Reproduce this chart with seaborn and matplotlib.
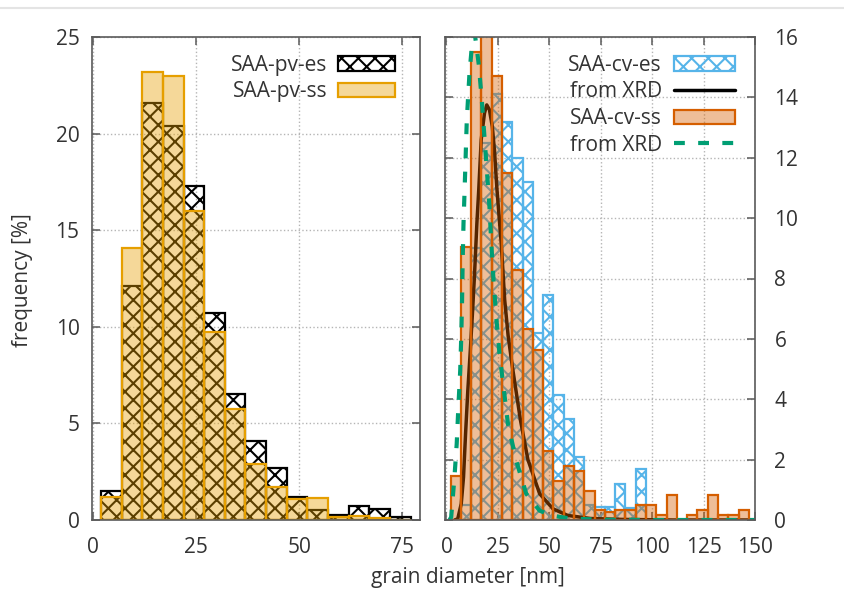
import numpy as np
import seaborn as sns
import matplotlib.pyplot as plt
from matplotlib.patches import Patch
from matplotlib.lines import Line2D

sns.set_theme(style="ticks")
plt.rcParams['font.family'] = ['Open Sans', 'DejaVu Sans']
plt.rcParams['hatch.linewidth'] = 1.5

# left panel: SAA-pv, 5 nm bins from 2 nm
pv_edges = list(range(2, 78, 5))
pv_es = [1.5, 12.1, 21.6, 20.4, 17.3, 10.7, 6.5, 4.1, 2.7, 1.2, 0.5, 0.25, 0.7, 0.55, 0.17]
pv_ss = [1.2, 14.1, 23.2, 23.0, 16.0, 9.75, 5.75, 2.9, 1.7, 1.1, 1.15, 0.15, 0.2, 0.1, 0.0]

# right panel: SAA-cv, 5 nm bins from 2 nm
cv_edges = list(range(2, 148, 5))
cv_es = [0.0, 0.5, 9.0, 12.5, 14.1, 13.2, 12.0, 11.2, 6.2, 7.45, 4.15, 3.35, 2.1, 0.5, 0.42,
         0.42, 1.2, 0.4, 1.68, 0, 0, 0, 0, 0, 0, 0, 0, 0, 0]
cv_ss = [1.46, 9.05, 15.5, 16.5, 14.7, 11.5, 8.27, 6.33, 5.63, 2.3, 1.29, 1.79, 1.62, 0.96, 0.33,
         0.27, 0.33, 0.33, 0.5, 0.5, 0.17, 0.82, 0.0, 0.17, 0.33, 0.82, 0.17, 0.17, 0.33]

# XRD distributions
xrd_es_x = [4, 5.5, 7.2, 8.3, 9.3, 10.4, 11.5, 12.6, 13.6, 14.8, 15.7, 16.9, 18.5, 19.6, 20.9,
            22.3, 23.4, 24.5, 26.6, 28.3, 30.0, 32.0, 34.0, 36.0, 39.6, 45.3, 51.8, 59, 70, 85, 110, 150]
xrd_es_y = [0, 0.04, 0.54, 1.42, 2.86, 4.3, 5.5, 6.8, 8.06, 9.83, 10.93, 12.6, 13.48, 13.75, 13.59,
            13.03, 12.2, 11.0, 9.2, 7.3, 6.1, 5.1, 4.2, 3.3, 2.0, 0.87, 0.37, 0.15, 0.05, 0.02, 0, 0]
xrd_ss_x = [1.5, 2.3, 3.9, 5.0, 5.8, 6.7, 7.2, 7.6, 7.9, 8.3, 8.8, 9.9, 11.2, 12.5, 13.8, 15.7,
            17.2, 20.9, 21.8, 22.9, 24.2, 25.8, 29.9, 33.9, 38.8, 45.3, 51, 60, 75, 100, 150]
xrd_ss_y = [0, 0.09, 1.42, 2.53, 3.74, 4.96, 6.07, 7.28, 8.61, 9.83, 10.87, 13.25, 14.8, 15.8, 16.1, 15.1,
            13.9, 10.4, 9.16, 7.93, 6.73, 5.5, 3.19, 1.97, 0.87, 0.31, 0.15, 0.05, 0.01, 0, 0]

orange = '#E69F00'
vermilion = '#D55E00'
skyblue = '#56B4E9'
green = '#009E73'
txt = '#333333'
fs = 15


def hist(ax, edges, values, **kws):
    e = np.array(edges, dtype=float)
    centers = (e[:-1] + e[1:]) / 2
    sns.histplot(x=centers, weights=values, bins=edges, ax=ax, fill=True, **kws)


fig = plt.figure(figsize=(8.44, 5.99), dpi=100)
ax1 = fig.add_axes([92/844, 1 - 520/599, 328/844, 483/599])
ax2 = fig.add_axes([445/844, 1 - 520/599, 310/844, 483/599])

# left
hist(ax1, pv_edges, pv_es, facecolor='none', edgecolor='black', hatch='xx', linewidth=1.6)
hist(ax1, pv_edges, pv_ss, facecolor=(0.902, 0.624, 0.0, 0.4), edgecolor=orange, linewidth=1.6)

# right (drawing order as in the original: es, XRD, ss, XRD)
hist(ax2, cv_edges, cv_es, facecolor='none', edgecolor=skyblue, hatch='xx', linewidth=1.6)
sns.lineplot(x=xrd_es_x, y=xrd_es_y, ax=ax2, color='black', linewidth=2.5, sort=False, zorder=1)
hist(ax2, cv_edges, cv_ss, facecolor=(0.835, 0.369, 0.0, 0.4), edgecolor=vermilion, linewidth=1.6)
sns.lineplot(x=xrd_ss_x, y=xrd_ss_y, ax=ax2, color=green, linewidth=3, sort=False, zorder=2)
ax2.lines[-1].set_dashes((2.6, 3.2))

for ax in (ax1, ax2):
    ax.set_axisbelow(True)
    ax.grid(True, ls=':', color='#b5b5b5', lw=1)
    ax.set_xlabel('')
    ax.set_ylabel('')
    for s in ax.spines.values():
        s.set_color('#5a5a5a')
        s.set_linewidth(1.2)
        s.set_zorder(3)
    ax.tick_params(direction='in', length=6, width=1.1, color='#5a5a5a',
                   labelcolor=txt, labelsize=fs, top=True, right=True, left=True, bottom=True)

ax1.set_xlim(-0.2, 79.3)
ax1.set_ylim(0, 25)
ax1.set_xticks([0, 25, 50, 75])
ax1.set_yticks(range(0, 26, 5))
ax1.tick_params(axis='x', pad=12)
ax1.tick_params(axis='y', pad=9)

ax2.set_xlim(-0.7, 150)
ax2.set_ylim(0, 16)
ax2.set_xticks(range(0, 151, 25))
ax2.set_yticks(range(0, 17, 2))
ax2.tick_params(axis='x', pad=12)
ax2.tick_params(axis='y', labelleft=False, labelright=True, pad=14)

h1 = [Patch(facecolor='none', edgecolor='black', hatch='xx', lw=1.6),
      Patch(facecolor=(0.902, 0.624, 0.0, 0.4), edgecolor=orange, lw=1.6)]
ax1.legend(h1, ['SAA-pv-es', 'SAA-pv-ss'], loc='upper right', bbox_to_anchor=(0.924, 0.963),
           frameon=False, markerfirst=False, fontsize=fs, borderpad=0, borderaxespad=0,
           handlelength=2.75, handletextpad=0.5, labelspacing=0.27, labelcolor=txt)

h2 = [Patch(facecolor='none', edgecolor=skyblue, hatch='xx', lw=1.6),
      Line2D([], [], color='black', lw=2.5),
      Patch(facecolor=(0.835, 0.369, 0.0, 0.4), edgecolor=vermilion, lw=1.6),
      Line2D([], [], color=green, lw=3, dashes=(2.6, 3.2))]
ax2.legend(h2, ['SAA-cv-es', 'from XRD', 'SAA-cv-ss', 'from XRD'], loc='upper right',
           bbox_to_anchor=(0.935, 0.963), frameon=False, markerfirst=False, fontsize=fs,
           borderpad=0, borderaxespad=0, handlelength=2.9, handletextpad=0.6,
           labelspacing=0.27, labelcolor=txt)

fig.text(22.5/844, 1 - 280/599, 'frequency [%]', rotation=90, ha='center', va='center',
         fontsize=fs, color=txt)
fig.text(468/844, 1 - 578/599, 'grain diameter [nm]', ha='center', va='center',
         fontsize=fs, color=txt)
fig.add_artist(Line2D([0, 1], [1 - 7.5/599, 1 - 7.5/599], transform=fig.transFigure,
                      color='#e4e4e4', lw=1.5))

fig.savefig('out.png', dpi=100)
